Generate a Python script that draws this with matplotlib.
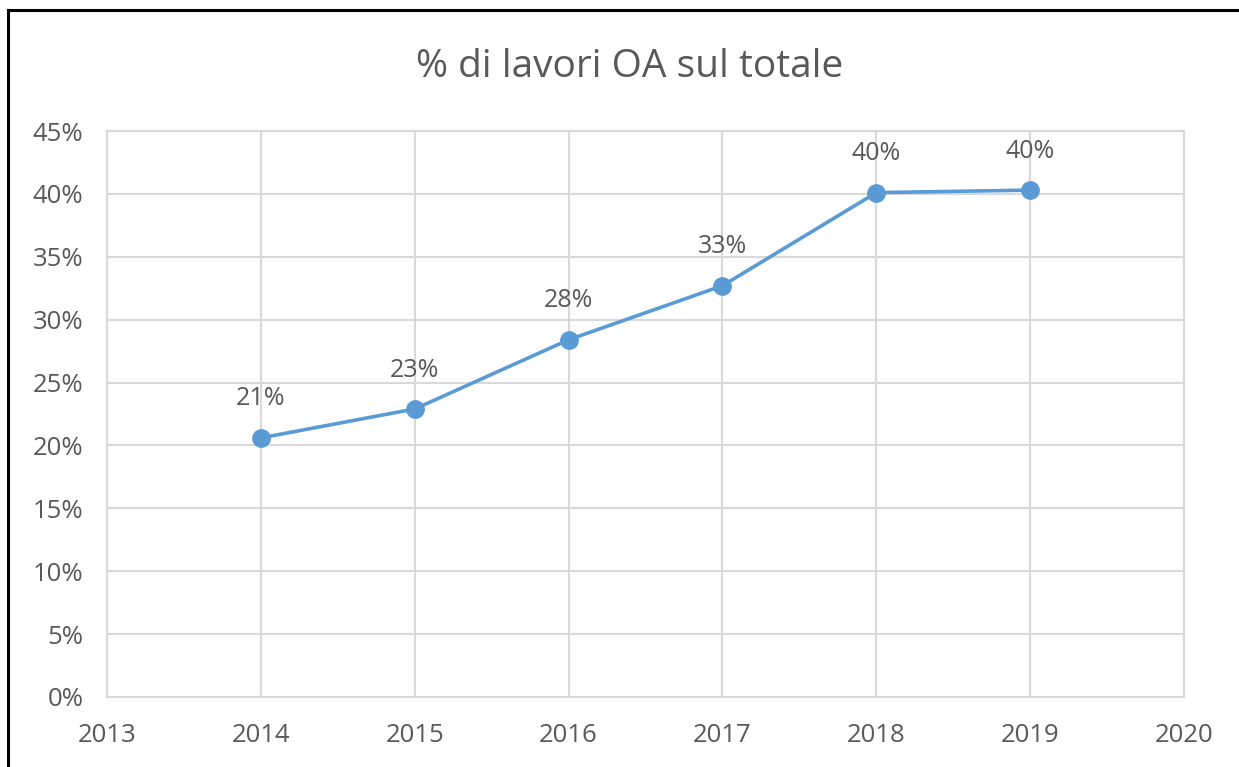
import matplotlib.pyplot as plt
from matplotlib.lines import Line2D
from matplotlib.ticker import PercentFormatter

anni = [2014, 2015, 2016, 2017, 2018, 2019]
quota_oa = [0.206, 0.229, 0.284, 0.327, 0.401, 0.403]
etichette = ["21%", "23%", "28%", "33%", "40%", "40%"]

grigio = "#595959"
griglia = "#D9D9D9"
blu = "#5B9BD5"
font = "Open Sans"

fig = plt.figure(figsize=(12.39, 7.67), dpi=100)
ax = fig.add_axes([0.0864, 0.0913, 0.8692, 0.7379])

ax.plot(anni, quota_oa, color=blu, lw=2.6, marker="o", ms=12.5, zorder=3)
for x, y, t in zip(anni, quota_oa, etichette):
    ax.annotate(t, (x, y), xytext=(0, 19), textcoords="offset points",
                ha="center", va="bottom", fontsize=18, color=grigio, family=font)

ax.set_xlim(2013, 2020)
ax.set_ylim(0, 0.45)
ax.set_xticks(range(2013, 2021))
ax.set_yticks([i * 0.05 for i in range(10)])
ax.yaxis.set_major_formatter(PercentFormatter(1.0, decimals=0))
ax.grid(True, color=griglia, lw=1.5)
ax.set_axisbelow(True)
for s in ax.spines.values():
    s.set_color(griglia)
    s.set_linewidth(1.5)
ax.tick_params(length=0, labelsize=18.5, labelcolor=grigio)
ax.tick_params(axis="y", pad=17)
ax.tick_params(axis="x", pad=19)
for lab in ax.get_xticklabels() + ax.get_yticklabels():
    lab.set_family(font)

fig.text(0.508, 0.913, "% di lavori OA sul totale", ha="center", va="center",
         fontsize=28, color=grigio, family=font)

# bordo del grafico (solo sinistra e sopra visibili)
fig.add_artist(Line2D([0.0065, 0.0065], [0, 0.987], color="black", lw=2.2, transform=fig.transFigure))
fig.add_artist(Line2D([0.0065, 1], [0.987, 0.987], color="black", lw=2.2, transform=fig.transFigure))

fig.savefig("out.png", dpi=100)
